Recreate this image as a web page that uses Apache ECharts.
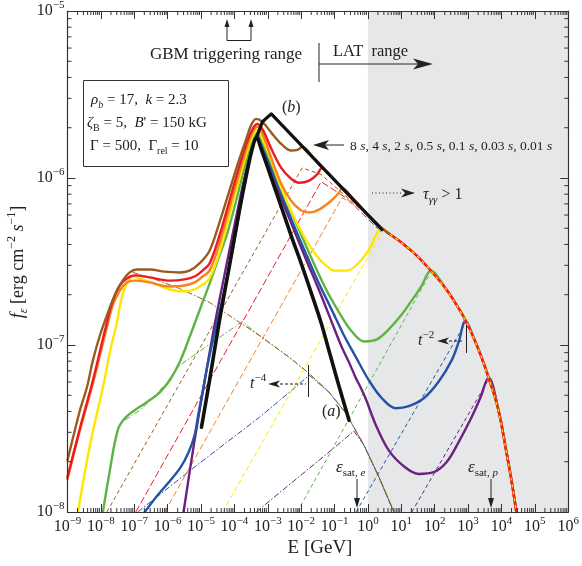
<!DOCTYPE html>
<html><head><meta charset="utf-8">
<script src="https://cdn.jsdelivr.net/npm/echarts@6/dist/echarts.min.js"></script>
<style>html,body{margin:0;padding:0;background:#fff}#c{width:582px;height:566px}</style>
</head><body><div id="c"></div>
<script>
// ---------- axis ranges ----------
const E_MIN = 1e-9, E_MAX = 1e6, F_MIN = 1e-8, F_MAX = 1e-5;
const latRange = [1, 1e6];

// ---------- shared high-energy envelope [E (GeV), f (erg cm^-2 s^-1)] ----------
const envelope = [[1.07e-2,1.54e-6],[2.44e-2,1.30e-6],[4.2e-2,1.15e-6],[6.9e-2,1.05e-6],[0.168,8.75e-7],[0.382,7.41e-7],[0.933,6.12e-7],[2.13,5.19e-7],[4.2,4.65e-7],[8.4,4.22e-7],[16.7,3.78e-7],[33.3,3.34e-7],[76,2.79e-7],[213,2.18e-7],[520,1.66e-7],[842,1.40e-7],[1459,1.11e-7],[2530,8.43e-8],[4090,6.4e-8],[8130,4.07e-8],[14100,2.28e-8],[19900,1.55e-8],[28000,1.0e-8]];

// ---------- solid curves (own part, before joining envelope) ----------
const brown8s = [[1e-9,2.04e-8],[2.36e-9,4.07e-8],[3.82e-9,5.58e-8],[5.77e-9,8.09e-8],[9.33e-9,1.14e-7],[1.86e-8,1.68e-7],[3.0e-8,2.12e-7],[4.5e-8,2.43e-7],[7.3e-8,2.72e-7],[1.19e-7,2.83e-7],[2.9e-7,2.83e-7],[8.1e-7,2.75e-7],[2.28e-6,2.72e-7],[4.5e-6,2.79e-7],[9.0e-6,3.08e-7],[1.8e-5,3.67e-7],[3.56e-5,5.41e-7],[7.1e-5,8.4e-7],[1.41e-4,1.30e-6],[2.28e-4,1.72e-6],[3.2e-4,2.08e-6],[4.5e-4,2.26e-6],[6.9e-4,2.17e-6],[1.27e-3,1.87e-6],[2.53e-3,1.60e-6],[5.0e-3,1.46e-6],[8.1e-3,1.48e-6]];
const red4s = [[1e-9,1.62e-8],[2.36e-9,3.17e-8],[5.77e-9,6.14e-8],[1.32e-8,1.22e-7],[2.28e-8,1.85e-7],[3.7e-8,2.27e-7],[6.0e-8,2.50e-7],[1.03e-7,2.61e-7],[2.9e-7,2.54e-7],[1.15e-6,2.43e-7],[3.2e-6,2.47e-7],[6.4e-6,2.57e-7],[1.11e-5,2.79e-7],[1.8e-5,3.08e-7],[3.56e-5,4.52e-7],[7.1e-5,7.31e-7],[1.41e-4,1.18e-6],[2.44e-4,1.67e-6],[3.7e-4,2.0e-6],[4.9e-4,2.11e-6],[7.3e-4,1.92e-6],[1.27e-3,1.50e-6],[2.53e-3,1.15e-6],[5.0e-3,9.9e-7],[8.7e-3,9.37e-7],[1.73e-2,9.64e-7],[3.0e-2,1.05e-6]];
const orange2s = [[1e-9,1.57e-8],[2.36e-9,3.09e-8],[5.77e-9,5.89e-8],[1.32e-8,1.14e-7],[2.28e-8,1.73e-7],[3.7e-8,2.12e-7],[6.0e-8,2.37e-7],[1.03e-7,2.43e-7],[2.9e-7,2.37e-7],[1.15e-6,2.24e-7],[3.2e-6,2.27e-7],[6.4e-6,2.37e-7],[1.11e-5,2.57e-7],[1.8e-5,2.79e-7],[3.56e-5,4.05e-7],[7.1e-5,6.64e-7],[1.41e-4,1.08e-6],[2.44e-4,1.56e-6],[3.7e-4,1.92e-6],[4.9e-4,2.03e-6],[7.3e-4,1.79e-6],[1.27e-3,1.32e-6],[2.53e-3,9.25e-7],[5.0e-3,7.31e-7],[1.0e-2,6.38e-7],[1.73e-2,6.21e-7],[3.44e-2,6.47e-7],[7.9e-2,7.31e-7],[0.136,8.17e-7]];
const yellow05s = [[2.06e-9,1.0e-8],[4.7e-9,2.51e-8],[1.15e-8,5.58e-8],[1.86e-8,9.04e-8],[3.0e-8,1.36e-7],[4.24e-8,1.93e-7],[6.0e-8,2.33e-7],[9.0e-8,2.57e-7],[1.46e-7,2.50e-7],[4.1e-7,2.33e-7],[1.15e-6,2.15e-7],[3.2e-6,2.09e-7],[6.4e-6,2.15e-7],[1.11e-5,2.30e-7],[1.8e-5,2.50e-7],[3.56e-5,3.57e-7],[7.1e-5,6.04e-7],[1.41e-4,9.9e-7],[2.44e-4,1.46e-6],[3.7e-4,1.84e-6],[4.9e-4,1.95e-6],[7.3e-4,1.67e-6],[1.27e-3,1.27e-6],[2.53e-3,8.75e-7],[5.77e-3,5.96e-7],[1.32e-2,4.34e-7],[3.0e-2,3.39e-7],[5.57e-2,2.99e-7],[9.7e-2,2.79e-7],[0.236,2.79e-7],[0.54,3.12e-7],[1.07,3.72e-7],[2.62,4.98e-7]];
const green01s = [[1.15e-8,1.0e-8],[1.86e-8,1.78e-8],[3.2e-8,3.09e-8],[5.2e-8,3.64e-8],[1.03e-7,4.07e-8],[2.36e-7,4.54e-8],[5.8e-7,5.21e-8],[1.15e-6,6.14e-8],[2.28e-6,7.87e-8],[4.5e-6,1.11e-7],[9.0e-6,1.61e-7],[1.8e-5,2.33e-7],[3.56e-5,3.43e-7],[6.2e-5,4.71e-7],[1.23e-4,7.83e-7],[2.13e-4,1.22e-6],[3.2e-4,1.60e-6],[4.9e-4,1.87e-6],[7.3e-4,1.60e-6],[1.36e-3,1.18e-6],[2.90e-3,8.05e-7],[7.6e-3,5.19e-7],[1.99e-2,3.34e-7],[5.2e-2,2.21e-7],[0.136,1.57e-7],[0.311,1.22e-7],[0.76,1.05e-7],[1.86,1.08e-7],[4.2,1.24e-7],[9.7,1.50e-7],[20.6,1.85e-7],[40.9,2.27e-7],[76,2.79e-7]];
const blue003s = [[2.06e-7,1.0e-8],[5.0e-7,1.26e-8],[1.15e-6,1.53e-8],[2.44e-6,1.85e-8],[4.24e-6,2.28e-8],[6.4e-6,2.88e-8],[8.4e-6,3.90e-8],[1.11e-5,5.21e-8],[1.56e-5,7.55e-8],[2.53e-5,1.17e-7],[5.0e-5,2.12e-7],[1.0e-4,4.22e-7],[1.99e-4,9.37e-7],[3.2e-4,1.46e-6],[4.9e-4,1.79e-6],[7.3e-4,1.52e-6],[1.36e-3,1.11e-6],[2.90e-3,7.52e-7],[6.6e-3,4.98e-7],[1.51e-2,3.39e-7],[3.44e-2,2.33e-7],[8.4e-2,1.61e-7],[0.192,1.14e-7],[0.44,8.43e-8],[1.07,6.14e-8],[2.62,4.80e-8],[6.85,4.18e-8],[16.7,4.30e-8],[47.0,4.80e-8],[132,6.05e-8],[321,8.09e-8],[520,1.04e-7],[842,1.40e-7]];
const purple001s = [[3.0e-6,1.0e-8],[6.4e-6,2.69e-8],[1.46e-5,7.05e-8],[2.53e-5,1.31e-7],[5.0e-5,2.61e-7],[1.0e-4,5.19e-7],[1.99e-4,1.0e-6],[3.2e-4,1.48e-6],[4.9e-4,1.74e-6],[7.3e-4,1.46e-6],[1.36e-3,1.03e-6],[2.90e-3,7.02e-7],[6.2e-3,4.84e-7],[1.32e-2,3.34e-7],[3.0e-2,2.27e-7],[6.9e-2,1.50e-7],[0.156,9.95e-8],[0.271,7.87e-8],[0.44,6.31e-8],[0.62,5.51e-8],[0.87,4.73e-8],[1.73,3.31e-8],[4.2,2.34e-8],[11.9,1.88e-8],[33.3,1.69e-8],[93,1.73e-8],[228,1.99e-8],[520,2.62e-8],[1271,3.69e-8],[2360,4.86e-8],[4090,6.4e-8]];
const blackA = [[1.03e-5,3.22e-8],[1.8e-5,6.14e-8],[3.56e-5,1.40e-7],[7.1e-5,2.99e-7],[1.41e-4,6.38e-7],[2.44e-4,1.11e-6],[3.44e-4,1.50e-6],[4.5e-4,1.74e-6],[6.9e-4,1.42e-6],[1.27e-3,1.0e-6],[2.53e-3,6.73e-7],[5.0e-3,4.52e-7],[1.0e-2,3.08e-7],[1.99e-2,2.06e-7],[3.95e-2,1.36e-7],[7.3e-2,8.79e-8],[0.136,5.66e-8],[0.271,3.54e-8]];
const blackB = [[4.5e-4,1.74e-6],[6.9e-4,2.17e-6],[1.27e-3,2.42e-6],[2.62,4.91e-7]];

// ---------- thin component lines ----------
const brownDashDot = [[9.0e-8,2.72e-7],[2.9e-7,2.54e-7],[2.28e-6,2.18e-7],[1.8e-5,1.80e-7],[8.7e-5,1.46e-7],[5.6e-4,1.14e-7],[4.4e-3,8.43e-8],[1.73e-2,6.76e-8],[6.9e-2,5.21e-8],[0.22,3.90e-8],[0.76,2.51e-8],[2.13,1.62e-8],[5.97,1.0e-8]];
const greenDashDotRise = [[5.2e-8,3.54e-8],[1.46e-7,4.07e-8],[4.1e-7,4.93e-8],[1.0e-6,6.05e-8],[2.28e-6,7.55e-8],[9.0e-6,9.16e-8],[3.56e-5,1.11e-7],[1.73e-4,1.38e-7]];
const blueDashDotRise = [[1.27e-7,1e-8],[4.7e-7,1.23e-8],[9.0e-6,1.96e-8],[5.6e-4,3.69e-8],[6.2e-3,5.51e-8],[1.73e-2,6.6e-8]];
const purpleDashDotRise = [[4.5e-4,1e-8],[2.2e-3,1.30e-8],[3.44e-2,2.04e-8],[0.382,3.05e-8]];
const brownDash = [[1.51e-8,1e-8],[1.07e-2,1.15e-6],[3.95e-2,1.05e-6],[0.54,6.64e-7]];
const redDash = [[1.11e-7,1e-8],[3.95e-2,9.5e-7],[0.22,7.62e-7],[2.62,4.71e-7]];
const orangeDash = [[8.1e-7,1e-8],[0.168,7.62e-7],[0.76,6.38e-7],[2.62,4.84e-7]];
const yellowDash = [[4.4e-5,1e-8],[2.62,4.71e-7]];
const greenDash = [[7.6e-3,1e-8],[76,2.72e-7]];
const blueDash = [[0.44,1e-8],[842,1.36e-7]];
const purpleDash = [[20.6,1e-8],[4090,6.22e-8]];

// ---------- style ----------
const SERIF = '"Liberation Serif","DejaVu Serif",serif';
const TXT = '#222';
const C = {brown:'#9c5b1e', red:'#ec1c24', orange:'#f7821f', yellow:'#ffe600', green:'#5db445', blue:'#2453a6', purple:'#6c2080', black:'#111'};

function withEnv(own, upto) {
  const last = own[own.length - 1][0];
  return own.concat(envelope.filter(p => p[0] > last && (upto == null || p[0] <= upto)));
}
function alongSync(rise) {
  const last = rise[rise.length - 1][0];
  return rise.concat(brownDashDot.filter(p => p[0] > last));
}
function solid(data, color, w, sm) {
  return {type:'line', data, showSymbol:false, smooth:(sm == null ? 0.35 : sm), silent:true, z:2,
    lineStyle:{color, width:w, cap:'round', join:'round'}};
}
function thin(data, color, dash, w) {
  return {type:'line', data, showSymbol:false, smooth:false, silent:true, z:2,
    lineStyle:{color, width:w || 1, type:dash}};
}
function minorVals(lo, hi) {
  const out = [];
  for (let d = lo; d < hi; d++) for (let m = 2; m <= 9; m++) out.push(m * Math.pow(10, d));
  return out;
}
const DD = [6, 2, 1.5, 2];
const labelFmt = v => {
  const e = Math.round(Math.log10(v));
  return '{b|10}{s|' + (e < 0 ? '\u2212' + (-e) : e) + '}';
};
const labelRich = {b:{fontSize:16, fontFamily:SERIF, lineHeight:22, color:TXT}, s:{fontSize:11, fontFamily:SERIF, verticalAlign:'top', color:TXT}};

const chart = echarts.init(document.getElementById('c'), null, {renderer:'canvas'});

const axisCommon = {
  type:'log', logBase:10, z:4,
  axisLine:{show:true, lineStyle:{color:'#333', width:1.2}},
  axisTick:{show:true, inside:true, length:8, lineStyle:{color:'#333', width:1}},
  splitLine:{show:false}, minorTick:{show:false}
};

const series = [
  // LAT shading
  {type:'custom', z:1, silent:true, clip:true, data:[[latRange[0], F_MIN, latRange[1], F_MAX]],
   renderItem:(p, api) => {
     const a = api.coord([api.value(0), api.value(3)]);
     const b = api.coord([api.value(2), api.value(1)]);
     return {type:'rect', shape:{x:a[0], y:a[1], width:b[0]-a[0], height:b[1]-a[1]}, style:{fill:'#e6e7e9'}};
   }},
  // dash-dot components
  thin(alongSync(purpleDashDotRise), C.purple, DD),
  thin(alongSync(blueDashDotRise), C.blue, DD),
  thin(alongSync(greenDashDotRise), C.green, DD),
  thin(brownDashDot, C.brown, DD),
  // dashed components
  thin(brownDash, C.brown, [4, 3]),
  thin(redDash, C.red, [7, 3]),
  thin(orangeDash, C.orange, [6, 3]),
  thin(yellowDash, C.yellow, [5, 3]),
  thin(greenDash, C.green, [4, 3]),
  thin(blueDash, C.blue, [4, 3]),
  thin(purpleDash, C.purple, [4, 3]),
  // solid spectra
  solid(withEnv(purple001s), C.purple, 2.4),
  solid(withEnv(blue003s), C.blue, 2.4),
  solid(withEnv(green01s), C.green, 2.4),
  solid(withEnv(yellow05s), C.yellow, 2.4),
  solid(withEnv(orange2s), C.orange, 2.4),
  solid(withEnv(red4s), C.red, 2.4),
  thin(envelope.filter(p => p[0] >= 2.13), C.yellow, [3, 4], 1.2),
  solid(withEnv(brown8s, 4.2), C.brown, 2.4),
  solid(blackA, C.black, 3.6),
  solid(blackB, C.black, 3.2, false),
  // minor ticks (x, bottom & top)
  {type:'custom', z:5, silent:true, clip:false, data:minorVals(-9, 6).map(v => [v, F_MIN]),
   renderItem:(p, api) => {
     const v = api.value(0);
     const b = api.coord([v, F_MIN]), t = api.coord([v, F_MAX]);
     const st = {stroke:'#333', lineWidth:1};
     return {type:'group', children:[
       {type:'line', shape:{x1:b[0], y1:b[1], x2:b[0], y2:b[1]-4}, style:st},
       {type:'line', shape:{x1:t[0], y1:t[1], x2:t[0], y2:t[1]+4}, style:st}]};
   }},
  // minor ticks (y, left & right)
  {type:'custom', z:5, silent:true, clip:false, data:minorVals(-8, -5).map(v => [E_MIN, v]),
   renderItem:(p, api) => {
     const v = api.value(1);
     const l = api.coord([E_MIN, v]), r = api.coord([E_MAX, v]);
     const st = {stroke:'#333', lineWidth:1};
     return {type:'group', children:[
       {type:'line', shape:{x1:l[0], y1:l[1], x2:l[0]+4, y2:l[1]}, style:st},
       {type:'line', shape:{x1:r[0], y1:r[1], x2:r[0]-4, y2:r[1]}, style:st}]};
   }}
];

// ---------- annotations ----------
const ink = {stroke:TXT, lineWidth:1};
const fillInk = {fill:TXT};
function txt(x, y, text, size, rich, align) {
  return {type:'text', x, y, z:100, silent:true, style:{text, fontSize:size, fontFamily:SERIF, fill:TXT,
    align:align || 'left', verticalAlign:'middle', rich:rich || {}}};
}
function ln(x1, y1, x2, y2, dash) {
  return {type:'line', z:100, silent:true, shape:{x1, y1, x2, y2}, style:Object.assign({lineDash:dash || null}, ink)};
}
function poly(pts) { return {type:'polygon', z:100, silent:true, shape:{points:pts}, style:fillInk}; }

const it = (s) => ({fontSize:s, fontFamily:SERIF, fontStyle:'italic', fill:TXT});
const sub = (s, ital) => ({fontSize:s, fontFamily:SERIF, fontStyle:ital ? 'italic' : 'normal', verticalAlign:'bottom', fill:TXT});
const sup = (s, ital) => ({fontSize:s, fontFamily:SERIF, fontStyle:ital ? 'italic' : 'normal', verticalAlign:'top', fill:TXT});
const base = (s, lh) => ({fontSize:s, fontFamily:SERIF, lineHeight:lh, fill:TXT});

const graphics = [
  // parameter box
  {type:'rect', z:100, silent:true, shape:{x:83.5, y:80.5, width:145, height:86}, style:{fill:'rgba(0,0,0,0)', stroke:'#333', lineWidth:1}},
  txt(91, 100, '{i|\u03c1}{sub|b}{n| = 17,  }{i|k}{n| = 2.3}', 15, {i:Object.assign(it(15), {lineHeight:20}), sub:sub(10, true), n:base(15, 20)}),
  txt(87, 123, '{i|\u03b6}{sub|B}{n| = 5,  }{i|B}{n|\' = 150 kG}', 15, {i:Object.assign(it(15), {lineHeight:20}), sub:sub(10, false), n:base(15, 20)}),
  txt(90, 146, '{n|\u0393 = 500,  \u0393}{sub|rel}{n| = 10}', 15, {sub:sub(10, false), n:base(15, 20)}),
  // GBM
  txt(150, 55, 'GBM triggering range', 17),
  {type:'polyline', z:100, silent:true, shape:{points:[[227,26],[227,40.5],[251,40.5],[251,26]]}, style:Object.assign({fill:null}, ink)},
  poly([[227,19],[224.5,27],[229.5,27]]),
  poly([[251,19],[248.5,27],[253.5,27]]),
  // LAT
  ln(319, 43, 319, 82),
  ln(319, 64, 420, 64),
  poly([[433,64],[413,58.5],[418,64],[413,69.5]]),
  txt(333, 52, 'LAT  range', 16.5),
  // (b), (a)
  txt(282, 108, '{n|(}{i|b}{n|)}', 16, {n:base(16, 20), i:it(16)}),
  txt(322, 412, '{n|(}{i|a}{n|)}', 16, {n:base(16, 20), i:it(16)}),
  // time labels
  ln(324, 145, 344, 145),
  poly([[313,145],[329,140],[325,145],[329,150]]),
  txt(350, 146, '{n|8 }{i|s}{n|, 4 }{i|s}{n|, 2 }{i|s}{n|, 0.5 }{i|s}{n|, 0.1 }{i|s}{n|, 0.03 }{i|s}{n|, 0.01 }{i|s}', 13.5, {n:base(13.5, 18), i:it(13.5)}),
  // tau
  ln(372, 193, 403, 193, [1, 2.5]),
  poly([[415,193],[401,188.5],[405,193],[401,197.5]]),
  txt(423, 195, '{i|\u03c4}{sub|\u03b3\u03b3}{n| > 1}', 16, {i:Object.assign(it(16), {lineHeight:22}), sub:sub(11, true), n:base(16, 22)}),
  // t^-2
  txt(418, 341, '{i|t}{sup|\u22122}', 16, {i:Object.assign(it(16), {lineHeight:22}), sup:sup(11, false)}),
  poly([[437,341],[449,337.5],[446,341],[449,344.5]]),
  ln(449, 341, 464, 341, [3, 2]),
  ln(466.5, 325, 466.5, 353),
  // t^-4
  txt(250, 384, '{i|t}{sup|\u22124}', 16, {i:Object.assign(it(16), {lineHeight:22}), sup:sup(11, false)}),
  poly([[268,384],[280,380.5],[277,384],[280,387.5]]),
  ln(280, 384, 306, 384, [3, 2]),
  ln(308.5, 365, 308.5, 397),
  // eps_sat
  txt(336, 468, '{i|\u03b5}{sub|sat, }{subi|e}', 17, {i:Object.assign(it(17), {lineHeight:22}), sub:sub(11, false), subi:sub(11, true)}),
  ln(357, 479, 357, 500),
  poly([[357,508],[354,498],[360,498]]),
  txt(468, 468, '{i|\u03b5}{sub|sat, }{subi|p}', 17, {i:Object.assign(it(17), {lineHeight:22}), sub:sub(11, false), subi:sub(11, true)}),
  ln(491, 479, 491, 500),
  poly([[491,508],[488,498],[494,498]]),
  // axis titles
  txt(320, 548, 'E [GeV]', 19, null, 'center'),
  {type:'text', x:18, y:262, rotation:Math.PI / 2, z:100, silent:true,
   style:{text:'{i|f}{isub|\u03b5}{n| [erg cm}{sup|\u22122}{n| }{i|s}{sup|\u22121}{n|]}', fontSize:18, fontFamily:SERIF, fill:TXT,
     align:'center', verticalAlign:'middle',
     rich:{i:Object.assign(it(18), {lineHeight:24}), isub:sub(12, true), n:base(18, 24), sup:sup(12, false)}}}
];

chart.setOption({
  animation:false,
  backgroundColor:'#fff',
  grid:{left:67.5, right:11.5, top:10, bottom:54, containLabel:false},
  xAxis:[
    Object.assign({}, axisCommon, {position:'bottom', min:E_MIN, max:E_MAX, interval:1, splitNumber:15,
      axisLabel:{show:true, margin:4, formatter:labelFmt, rich:labelRich, hideOverlap:false, showMinLabel:true, showMaxLabel:true}}),
    Object.assign({}, axisCommon, {position:'top', min:E_MIN, max:E_MAX, interval:1, splitNumber:15, axisLabel:{show:false}})
  ],
  yAxis:[
    Object.assign({}, axisCommon, {position:'left', min:F_MIN, max:F_MAX, interval:1, splitNumber:3,
      axisLabel:{show:true, margin:3, formatter:labelFmt, rich:labelRich, hideOverlap:false, showMinLabel:true, showMaxLabel:true}}),
    Object.assign({}, axisCommon, {position:'right', min:F_MIN, max:F_MAX, interval:1, splitNumber:3, axisLabel:{show:false}})
  ],
  series,
  graphic:graphics
});
</script></body></html>
